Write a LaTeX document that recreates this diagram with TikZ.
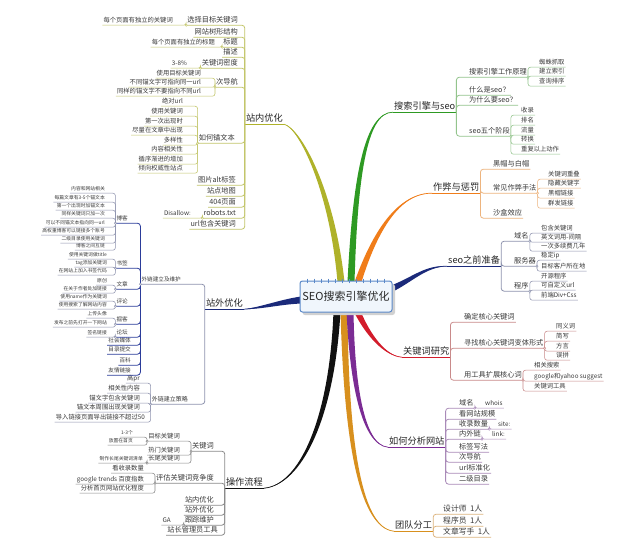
\documentclass[tikz,border=0pt]{standalone}
\usepackage{fontspec}
\setmainfont{Noto Sans CJK SC}
\usetikzlibrary{calc}
\definecolor{txt}{HTML}{3A3A3A}
\definecolor{cOl}{HTML}{AFB22A}
\definecolor{lOl}{HTML}{C3C66A}
\definecolor{cNv}{HTML}{1B2A7A}
\definecolor{lNv}{HTML}{8E93AE}
\definecolor{mNv}{HTML}{2B3C9A}
\definecolor{cBk}{HTML}{111111}
\definecolor{lBk}{HTML}{8A8A8A}
\definecolor{cGr}{HTML}{2E9A23}
\definecolor{lGr}{HTML}{93C48C}
\definecolor{cOr}{HTML}{F07D1A}
\definecolor{lOr}{HTML}{EDB47E}
\definecolor{cRd}{HTML}{D31C2B}
\definecolor{lRd}{HTML}{C98A8A}
\definecolor{cPu}{HTML}{7B2C94}
\definecolor{lPu}{HTML}{A98AB8}
\definecolor{cBr}{HTML}{D8901E}
\definecolor{lBr}{HTML}{DDB57F}
\definecolor{cBox}{HTML}{5A88C8}
\definecolor{fBox}{HTML}{F0F6FC}
\newcommand\LK[3]{\draw[#1] (#2.south west) |- (#3.south west);}
\newcommand\RK[3]{\draw[#1] (#2.south east) |- (#3.south east);}
\newcommand\JL[2]{\draw[#2,fill=white,line width=0.45pt] (#1.south west) circle (1.1pt);}
\newcommand\JR[2]{\draw[#2,fill=white,line width=0.45pt] (#1.south east) circle (1.1pt);}
\newcommand\MBR[6]{%
  \fill[#1] ($(#2)+(#6)$) .. controls ($(#3)+0.7*(#6)$) and ($(#4)+0.35*(#6)$) .. (#5)
     .. controls ($(#4)-0.35*(#6)$) and ($(#3)-0.7*(#6)$) .. ($(#2)-(#6)$) -- cycle;
  \draw[#1,line width=0.7pt] (#2) .. controls (#3) and (#4) .. (#5);}
\tikzset{
  lab/.style={inner xsep=1pt, inner ysep=1.2pt, text height=0.78em, text depth=0.18em, text=txt},
  ln/.style={lab, anchor=east},
  rn/.style={lab, anchor=west},
  f1/.style={font=\fontsize{9.2}{10}\selectfont, text=black!85},
  f2/.style={font=\fontsize{7.2}{8}\selectfont},
  f3/.style={font=\fontsize{6.3}{7}\selectfont},
  f4/.style={font=\fontsize{4.8}{5.5}\selectfont},
  f5/.style={font=\fontsize{5.6}{6.5}\selectfont},
  fT/.style={font=\fontsize{7.8}{9}\selectfont},
  k2/.style={line width=0.8pt, rounded corners=3pt},
  k3/.style={line width=0.55pt, rounded corners=2.5pt},
  cbox/.style={draw=cBox, fill=fBox, line width=1pt, rounded corners=2.5pt,
    minimum width=92pt, minimum height=31pt, inner sep=0pt,
    font=\fontsize{11}{12}\selectfont, text=black!85}
}
\begin{document}
\begin{tikzpicture}[x=1pt,y=-1pt]
\fill[white] (0,0) rectangle (628,554);
\useasboundingbox (0,0) rectangle (628,554);

% ===== 站内优化 =====
\node[ln,f1] (zn) at (284,118) {站内优化};
\node[ln,f2] (zn1) at (239,19) {选择目标关键词};
\node[ln,f3] (zn1a) at (174,19) {每个页面有独立的关键词};
\node[ln,f2] (zn2) at (239,31) {网站树形结构};
\node[ln,f2] (zn3) at (239,41) {标题};
\node[ln,f3] (zn3a) at (216,41) {每个页面有独立的标题};
\node[ln,f2] (zn4) at (239,51) {描述};
\node[ln,f2] (zn5) at (239,62) {关键词密度};
\node[ln,f3] (zn5a) at (188,62) {3-8\%};
\node[ln,f2] (zn6) at (239,81) {次导航};
\node[ln,f3] (zn6a) at (202,72) {使用目标关键词};
\node[ln,f3] (zn6b) at (202,81) {不同锚文字可指向同一url};
\node[ln,f3] (zn6c) at (202,90) {同样的锚文字不要指向不同url};
\node[ln,f2] (zn7) at (236,137) {如何锚文本};
\node[ln,f3] (zn7a) at (184,100) {绝对url};
\node[ln,f3] (zn7b) at (184,110) {使用关键词};
\node[ln,f3] (zn7c) at (184,120) {第一次出现时};
\node[ln,f3] (zn7d) at (184,129) {尽量在文章中出现};
\node[ln,f3] (zn7e) at (184,139) {多样性};
\node[ln,f3] (zn7f) at (184,148) {内容相关性};
\node[ln,f3] (zn7g) at (184,158) {循序渐进的增加};
\node[ln,f3] (zn7h) at (184,167) {倾向权威性站点};
\node[ln,f2] (zn8) at (237,179) {图片alt标签};
\node[ln,f2] (zn9) at (237,190) {站点地图};
\node[ln,f2] (zn10) at (237,201) {404页面};
\node[ln,f2] (zn11) at (237,212) {robots.txt};
\node[ln,f3] (zn11a) at (192,212) {Disallow:};
\node[ln,f2] (zn12) at (237,223) {url包含关键词};

% ===== 站外优化 =====
\node[ln,f1] (zw) at (244,303) {站外优化};
\node[ln,f5] (zw1) at (182,278) {外链建立及维护};
\node[ln,f2,font=\fontsize{6}{7}\selectfont] (zw2) at (189,398) {外链建立策略};
\node[ln,f5] (zb1) at (129,217) {博客};
\node[ln,f5] (zb2) at (129,262) {书签};
\node[ln,f5] (zb3) at (129,283) {文章};
\node[ln,f5] (zb4) at (129,300) {评论};
\node[ln,f5] (zb5) at (129,318) {掘客};
\node[ln,f5] (zb6) at (129,331) {论坛};
\node[ln,f5] (zb7) at (132,339) {社会媒体};
\node[ln,f5] (zb8) at (132,348) {目录提交};
\node[ln,f5] (zb9) at (132,359) {百科};
\node[ln,f5] (zb10) at (132,369) {友情链接};
\node[ln,f4] (zb1a) at (106,187) {内容和网站相关};
\node[ln,f4] (zb1b) at (106,196) {每篇文章有3-5个锚文本};
\node[ln,f4] (zb1c) at (106,204) {第一个出现时加锚文本};
\node[ln,f4] (zb1d) at (106,212) {同样关键词只加一次};
\node[ln,f4] (zb1e) at (106,221) {可以不同锚文本指向同一url};
\node[ln,f4] (zb1f) at (106,229) {高权重博客可以链接多个账号};
\node[ln,f4] (zb1g) at (106,237) {二级目录使用关键词};
\node[ln,f4] (zb1h) at (106,244) {博客之间互链};
\node[ln,f4] (zb2a) at (108,253) {使用关键词做title};
\node[ln,f4] (zb2b) at (108,261) {tag添加关键词};
\node[ln,f4] (zb2c) at (108,269) {在网站上加入书签代码};
\node[ln,f4] (zb3a) at (108,279) {原创};
\node[ln,f4] (zb3b) at (108,287) {在关于作者处加链接};
\node[ln,f4] (zb4a) at (108,295) {使用name作为关键词};
\node[ln,f4] (zb4b) at (108,303) {使用搜索了解网站内容};
\node[ln,f4] (zb5a) at (108,312) {上传头像};
\node[ln,f4] (zb5b) at (108,321) {发布之前先打开一下网站};
\node[ln,f4] (zb6a) at (108,331) {签名链接};
\node[ln,f3] (zq1) at (141,377) {高pr};
\node[ln,f3] (zq2) at (141,387) {相关性内容};
\node[ln,f3] (zq3) at (141,397) {锚文字包含关键词};
\node[ln,f3] (zq4) at (141,406) {锚文本周围出现关键词};
\node[ln,f3] (zq5) at (146,416) {导入链接页面导出链接不超过50};

% ===== 操作流程 =====
\node[ln,f1] (zc) at (264,482) {操作流程};
\node[ln,f2] (zc1) at (215,445) {关键词};
\node[ln,f3] (zc1a) at (181,435) {目标关键词};
\node[ln,f4] (zc1a1) at (134,431) {1-3个};
\node[ln,f4] (zc1a2) at (134,439) {放置在首页};
\node[ln,f3] (zc1b) at (181,449) {热门关键词};
\node[ln,f3] (zc1c) at (181,457) {长尾关键词};
\node[ln,f4] (zc1c1) at (144,457) {制作长尾关键词清单};
\node[ln,f2] (zc2) at (215,477) {评估关键词竞争度};
\node[ln,f3] (zc2a) at (145,467) {看收录数量};
\node[ln,f3] (zc2b) at (145,478) {google trends 百度指数};
\node[ln,f3] (zc2c) at (145,487) {分析首页网站优化程度};
\node[ln,f2] (zc3) at (215,499) {站内优化};
\node[ln,f2] (zc4) at (215,509) {站外优化};
\node[ln,f2] (zc5) at (215,519) {跟踪维护};
\node[ln,f3] (zc5a) at (172,519) {GA};
\node[ln,f2] (zc6) at (219,529) {站长管理员工具};

% ===== 搜索引擎与seo =====
\node[rn,f1] (zs) at (393,106) {搜索引擎与seo};
\node[rn,f2] (zs1) at (468,71) {搜索引擎工作原理};
\node[rn,f3] (zs1a) at (538,61) {蜘蛛抓取};
\node[rn,f3] (zs1b) at (538,70) {建立索引};
\node[rn,f3] (zs1c) at (538,80) {查询排序};
\node[rn,f2] (zs2) at (468,89) {什么是seo？};
\node[rn,f2] (zs3) at (468,99) {为什么要seo？};
\node[rn,f2] (zs4) at (468,130) {seo五个阶段};
\node[rn,f3] (zs4a) at (520,109) {收录};
\node[rn,f3] (zs4b) at (520,119) {排名};
\node[rn,f3] (zs4c) at (520,129) {流量};
\node[rn,f3] (zs4d) at (520,138) {转换};
\node[rn,f3] (zs4e) at (520,148) {重复以上动作};

% ===== 作弊与惩罚 =====
\node[rn,f1] (zz) at (432,187) {作弊与惩罚};
\node[rn,f2] (zz1) at (492,163) {黑帽与白帽};
\node[rn,f2] (zz2) at (492,187) {常见作弊手法};
\node[rn,f3] (zz2a) at (547,173) {关键词重叠};
\node[rn,f3] (zz2b) at (547,182) {隐藏关键字};
\node[rn,f3] (zz2c) at (547,192) {黑帽链接};
\node[rn,f3] (zz2d) at (547,202) {群发链接};
\node[rn,f2] (zz3) at (492,212) {沙盒效应};

% ===== seo之前准备 =====
\node[rn,f1] (zp) at (447,260) {seo之前准备};
\node[rn,f2] (zp1) at (513,235) {域名};
\node[rn,f3] (zp1a) at (540,227) {包含关键词};
\node[rn,f3] (zp1b) at (540,236) {英文词用-间隔};
\node[rn,f3] (zp1c) at (540,245) {一次多续费几年};
\node[rn,f2] (zp2) at (513,260) {服务器};
\node[rn,f3] (zp2a) at (540,254) {稳定ip};
\node[rn,f3] (zp2b) at (540,265) {目标客户所在地};
\node[rn,f2] (zp3) at (513,285) {程序};
\node[rn,f3] (zp3a) at (540,275) {开源程序};
\node[rn,f3] (zp3b) at (540,284) {可自定义url};
\node[rn,f3] (zp3c) at (540,294) {前端Div+Css};

% ===== 关键词研究 =====
\node[rn,f1] (zk) at (402,351) {关键词研究};
\node[rn,f2] (zk1) at (463,316) {确定核心关键词};
\node[rn,f2] (zk2) at (463,342) {寻找核心关键词变体形式};
\node[rn,f3] (zk2a) at (555,325) {同义词};
\node[rn,f3] (zk2b) at (555,335) {简写};
\node[rn,f3] (zk2c) at (555,345) {方言};
\node[rn,f3] (zk2d) at (555,354) {误拼};
\node[rn,f2] (zk3) at (463,374) {用工具扩展核心词};
\node[rn,f3] (zk3a) at (533,364) {相关搜索};
\node[rn,f3] (zk3b) at (533,375) {google和yahoo suggest};
\node[rn,f3] (zk3c) at (533,385) {关键词工具};

% ===== 如何分析网站 =====
\node[rn,f1] (za) at (388,441) {如何分析网站};
\node[rn,f2] (za1) at (458,402) {域名};
\node[rn,f3] (za1a) at (484,402) {whois};
\node[rn,f2] (za2) at (458,413) {看网站规模};
\node[rn,f2] (za3) at (458,423) {收录数量};
\node[rn,f3] (za3a) at (497,423) {site:};
\node[rn,f2] (za4) at (458,433) {内外链};
\node[rn,f3] (za4a) at (491,433) {link:};
\node[rn,f2] (za5) at (458,446) {标签写法};
\node[rn,f2] (za6) at (458,456) {次导航};
\node[rn,f2] (za7) at (458,467) {url标准化};
\node[rn,f2] (za8) at (458,478) {二级目录};

% ===== 团队分工 =====
\node[rn,f1] (zt) at (394,525) {团队分工};
\node[rn,fT] (zt1) at (442,508) {设计师\ \ 1人};
\node[rn,fT] (zt2) at (442,520) {程序员\ \ 1人};
\node[rn,fT] (zt3) at (442,531) {文章写手\ \ 1人};

% ===== connectors =====
\draw[cOl,line width=0.8pt] (zn.south east) -- (zn.south west);
\foreach \n in {zn1,zn2,zn3,zn4,zn5,zn6,zn7,zn8,zn9,zn10,zn11,zn12} {\LK{k2,lOl}{zn}{\n}}
\LK{k3,lOl}{zn1}{zn1a}
\LK{k3,lOl}{zn3}{zn3a}
\LK{k3,lOl}{zn5}{zn5a}
\foreach \n in {zn6a,zn6b,zn6c} {\LK{k3,lOl}{zn6}{\n}}
\foreach \n in {zn7a,zn7b,zn7c,zn7d,zn7e,zn7f,zn7g,zn7h} {\LK{k3,lOl}{zn7}{\n}}
\LK{k3,lOl}{zn11}{zn11a}

\draw[cNv,line width=0.8pt] (zw.south east) -- (zw.south west);
\LK{k2,lNv}{zw}{zw1}
\LK{k2,lNv}{zw}{zw2}
\foreach \n in {zb1,zb2,zb3,zb4,zb5,zb6,zb7,zb8,zb9,zb10} {\LK{k2,mNv}{zw1}{\n}}
\foreach \n in {zb1a,zb1b,zb1c,zb1d,zb1e,zb1f,zb1g,zb1h} {\LK{k3,lNv}{zb1}{\n}}
\foreach \n in {zb2a,zb2b,zb2c} {\LK{k3,lNv}{zb2}{\n}}
\foreach \n in {zb3a,zb3b} {\LK{k3,lNv}{zb3}{\n}}
\foreach \n in {zb4a,zb4b} {\LK{k3,lNv}{zb4}{\n}}
\foreach \n in {zb5a,zb5b} {\LK{k3,lNv}{zb5}{\n}}
\LK{k3,lNv}{zb6}{zb6a}
\foreach \n in {zq1,zq2,zq3,zq4,zq5} {\LK{k3,lNv}{zw2}{\n}}

\draw[cBk,line width=0.8pt] (zc.south east) -- (zc.south west);
\foreach \n in {zc1,zc2,zc3,zc4,zc5,zc6} {\LK{k2,lBk}{zc}{\n}}
\foreach \n in {zc1a,zc1b,zc1c} {\LK{k3,lBk}{zc1}{\n}}
\foreach \n in {zc1a1,zc1a2} {\LK{k3,lBk}{zc1a}{\n}}
\LK{k3,lBk}{zc1c}{zc1c1}
\foreach \n in {zc2a,zc2b,zc2c} {\LK{k3,lBk}{zc2}{\n}}
\LK{k3,lBk}{zc5}{zc5a}

\draw[cGr,line width=0.8pt] (zs.south west) -- (zs.south east);
\foreach \n in {zs1,zs2,zs3,zs4} {\RK{k2,lGr}{zs}{\n}}
\foreach \n in {zs1a,zs1b,zs1c} {\RK{k3,lGr}{zs1}{\n}}
\foreach \n in {zs4a,zs4b,zs4c,zs4d,zs4e} {\RK{k3,lGr}{zs4}{\n}}

\draw[cOr,line width=0.8pt] (zz.south west) -- (zz.south east);
\foreach \n in {zz1,zz2,zz3} {\RK{k2,lOr}{zz}{\n}}
\foreach \n in {zz2a,zz2b,zz2c,zz2d} {\RK{k3,lOr}{zz2}{\n}}

\draw[cNv,line width=0.8pt] (zp.south west) -- (zp.south east);
\foreach \n in {zp1,zp2,zp3} {\RK{k2,lNv}{zp}{\n}}
\foreach \n in {zp1a,zp1b,zp1c} {\RK{k3,lNv}{zp1}{\n}}
\foreach \n in {zp2a,zp2b} {\RK{k3,lNv}{zp2}{\n}}
\foreach \n in {zp3a,zp3b,zp3c} {\RK{k3,lNv}{zp3}{\n}}

\draw[cRd,line width=0.8pt] (zk.south west) -- (zk.south east);
\foreach \n in {zk1,zk2,zk3} {\RK{k2,lRd}{zk}{\n}}
\foreach \n in {zk2a,zk2b,zk2c,zk2d} {\RK{k3,lRd}{zk2}{\n}}
\foreach \n in {zk3a,zk3b,zk3c} {\RK{k3,lRd}{zk3}{\n}}

\draw[cPu,line width=0.8pt] (za.south west) -- (za.south east);
\foreach \n in {za1,za2,za3,za4,za5,za6,za7,za8} {\RK{k2,lPu}{za}{\n}}
\RK{k3,lPu}{za1}{za1a}
\RK{k3,lPu}{za3}{za3a}
\RK{k3,lPu}{za4}{za4a}

\draw[cBr,line width=0.8pt] (zt.south west) -- (zt.south east);
\foreach \n in {zt1,zt2,zt3} {\RK{k2,lBr}{zt}{\n}}

% junction circles
\foreach \n in {zn1,zn3,zn5,zn6,zn7,zn11} {\JL{\n}{lOl}}
\foreach \n in {zw1,zw2,zb1,zb2,zb3,zb4,zb5,zb6} {\JL{\n}{lNv}}
\foreach \n in {zc1,zc1a,zc1c,zc2,zc5} {\JL{\n}{lBk}}
\foreach \n in {zs1,zs4} {\JR{\n}{lGr}}
\JR{zz2}{lOr}
\foreach \n in {zp1,zp2,zp3} {\JR{\n}{lNv}}
\foreach \n in {zk2,zk3} {\JR{\n}{lRd}}
\foreach \n in {za1,za3,za4} {\JR{\n}{lPu}}

% ===== main branches =====
\coordinate (b1) at (341,282);
\coordinate (b2) at (351,282);
\coordinate (b3) at (358,282);
\coordinate (b4) at (391,289);
\coordinate (b5) at (357,311);
\coordinate (b6) at (350,311);
\coordinate (b7) at (344,311);
\coordinate (b8) at (337,311);
\coordinate (b9) at (301,300);
\MBR{cOl}{b1}{332,190}{300,128}{zn.south east}{3.5,0}
\MBR{cGr}{b2}{355,180}{365,112}{zs.south west}{3.5,0}
\MBR{cOr}{b3}{372,240}{395,193}{zz.south west}{3.5,0}
\MBR{cNv}{b4}{412,280}{425,266}{zp.south west}{0,3.5}
\MBR{cBr}{b7}{346,430}{358,528}{zt.south west}{3.5,0}
\MBR{cPu}{b6}{352,380}{362,445}{za.south west}{3.5,0}
\MBR{cRd}{b5}{368,335}{385,356}{zk.south west}{3.5,0}
\MBR{cBk}{b8}{332,420}{300,485}{zc.south east}{3.5,0}
\MBR{cNv}{b9}{280,302}{262,308}{zw.south east}{0,3.5}

% ===== centre =====
\fill[black!18, rounded corners=2.5pt] (302.5,284) rectangle (395,315);
\node[cbox] (c) at (346,296.5) {SEO搜索引擎优化};
\foreach \i in {0,...,11} {\draw[cBox, line width=1.3pt, line cap=round] (307.5+\i*7,279.5) -- (307.5+\i*7,282.5);}
\end{tikzpicture}
\end{document}
